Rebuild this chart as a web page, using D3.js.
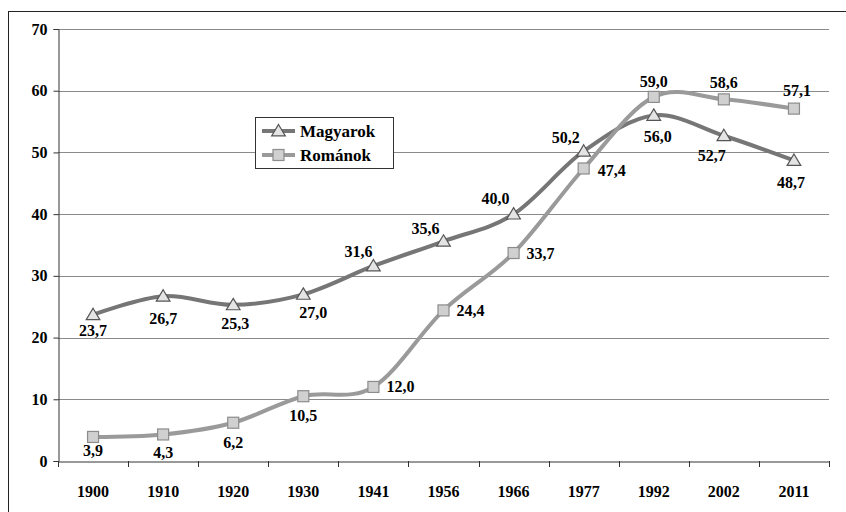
<!DOCTYPE html>
<html><head><meta charset="utf-8">
<script src="https://cdn.jsdelivr.net/npm/d3@7"></script>
<style>
html,body{margin:0;padding:0;background:#fff;}
svg text{font-family:'Liberation Serif','Times New Roman',Times,'Nimbus Roman','DejaVu Serif',serif !important;font-weight:bold;}
</style></head>
<body><svg id="c" width="846" height="512"></svg>
<script>
const years = ["1900","1910","1920","1930","1941","1956","1966","1977","1992","2002","2011"];
const magyarok = [23.7,26.7,25.3,27.0,31.6,35.6,40.0,50.2,56.0,52.7,48.7];
const romanok = [3.9,4.3,6.2,10.5,12.0,24.4,33.7,47.4,59.0,58.6,57.1];
const yTicks = [0,10,20,30,40,50,60,70];
const seriesNames = ["Magyarok","Románok"];

// label placement offsets (layout only)
const magLabelOff = [[0,16],[0,22],[2,19],[10,18],[-15,-14],[-18,-13],[-18,-16],[-18,-14],[4,21],[-12,20],[-3,22]];
const romLabelOff = [[0,14],[0,18],[0,20],[0,19],[27,0],[27,0],[27,0],[28,2],[0,-15],[0,-17],[3,-18]];

const FONT = "'Liberation Serif','Times New Roman',Times,serif";
const svg = d3.select("#c");
const L=58, R=829, T=29, B=461;

// outer frame
svg.append("rect").attr("x",8.5).attr("y",11.5).attr("width",900).attr("height",600)
  .attr("fill","none").attr("stroke","#222").attr("stroke-width",1);

const x = d3.scaleBand().domain(years).range([L,R]).padding(0);
const y = d3.scaleLinear().domain([0,70]).range([B,T]);
const cx = d => x(d)+x.bandwidth()/2;

// gridlines
svg.append("g").selectAll("line").data(yTicks.filter(t=>t>0)).join("line")
  .attr("x1",L).attr("x2",R).attr("y1",d=>Math.round(y(d))+0.5).attr("y2",d=>Math.round(y(d))+0.5)
  .attr("stroke","#8a8a8a").attr("stroke-width",1);

// y axis
const yAx = svg.append("g").attr("transform",`translate(${L+0.5},0)`)
  .call(d3.axisLeft(y).tickValues(yTicks).tickSize(5).tickPadding(6).tickFormat(d3.format("d")));
yAx.attr("font-family",FONT);
yAx.select(".domain").attr("stroke","#333");
yAx.selectAll(".tick line").attr("stroke","#333");
yAx.selectAll("text").attr("font-size",16).attr("fill","#000")
  .attr("font-family",FONT).attr("font-weight","bold");

// x axis
const xAx = svg.append("g").attr("transform",`translate(0,${B+0.5})`)
  .call(d3.axisBottom(x).tickSize(0).tickPadding(24));
xAx.attr("font-family",FONT);
xAx.select(".domain").attr("stroke","#333");
xAx.selectAll("text").attr("font-size",16).attr("fill","#000")
  .attr("font-family",FONT).attr("font-weight","bold");
// category boundary ticks
const bounds = years.map(d=>x(d)).concat([R]);
svg.append("g").selectAll("line").data(bounds).join("line")
  .attr("x1",d=>Math.round(d)+0.5).attr("x2",d=>Math.round(d)+0.5)
  .attr("y1",B).attr("y2",B+6).attr("stroke","#333");

const line = d3.line().x((d,i)=>cx(years[i])).y(d=>y(d)).curve(d3.curveCardinal.tension(0));

const series = [
  {name:seriesNames[0], vals:magyarok, color:"#767676", marker:"tri", off:magLabelOff},
  {name:seriesNames[1], vals:romanok, color:"#9a9a9a", marker:"sq", off:romLabelOff}
];

function drawMarker(g, type, px, py){
  if(type==="tri"){
    const s=6.5;
    g.append("path").attr("d",`M${px},${py-s}L${px+s*1.05},${py+s*0.75}L${px-s*1.05},${py+s*0.75}Z`)
      .attr("fill","#e4e4e4").attr("stroke","#555").attr("stroke-width",1.2);
  } else {
    const s=5.5;
    g.append("rect").attr("x",px-s).attr("y",py-s).attr("width",2*s).attr("height",2*s)
      .attr("fill","#d0d0d0").attr("stroke","#8c8c8c").attr("stroke-width",1.2);
  }
}

series.forEach(s=>{
  svg.append("path").datum(s.vals).attr("d",line).attr("fill","none")
    .attr("stroke",s.color).attr("stroke-width",4);
});
series.forEach(s=>{
  const g = svg.append("g");
  s.vals.forEach((v,i)=>drawMarker(g,s.marker,cx(years[i]),y(v)));
});
series.forEach(s=>{
  svg.append("g").selectAll("text").data(s.vals).join("text")
    .attr("x",(d,i)=>cx(years[i])+s.off[i][0])
    .attr("y",(d,i)=>y(d)+s.off[i][1])
    .attr("text-anchor","middle").attr("dominant-baseline","central")
    .attr("font-family",FONT).attr("font-weight","bold")
    .attr("font-size",16).attr("fill","#000")
    .text(d=>d3.format(".1f")(d).replace(".",","));
});

// legend
const lg = svg.append("g");
lg.append("rect").attr("x",255.5).attr("y",117.5).attr("width",138).attr("height",51)
  .attr("fill","#fff").attr("stroke","#333").attr("stroke-width",1);
series.forEach((s,i)=>{
  const ly = 131 + i*24;
  lg.append("line").attr("x1",262).attr("x2",295).attr("y1",ly).attr("y2",ly)
    .attr("stroke",s.color).attr("stroke-width",4);
  drawMarker(lg,s.marker,278.5,ly);
  lg.append("text").attr("x",300).attr("y",ly).attr("dominant-baseline","central")
    .attr("font-family",FONT).attr("font-weight","bold")
    .attr("font-size",17).attr("fill","#000").text(s.name);
});
</script></body></html>
